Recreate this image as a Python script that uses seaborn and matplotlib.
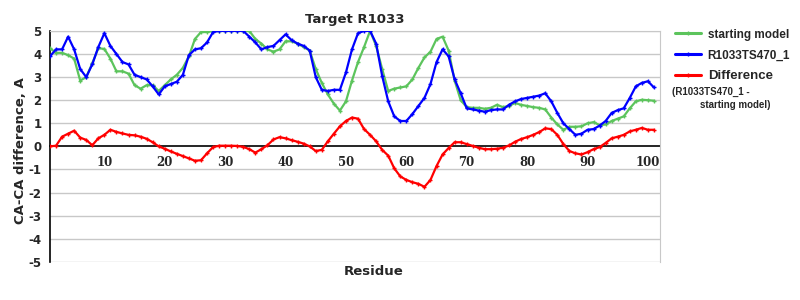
import numpy as np
import pandas as pd
import matplotlib
matplotlib.use("Agg")
import matplotlib.pyplot as plt
import seaborn as sns
from matplotlib.lines import Line2D

residues = list(range(1, 102))

starting_model = [
    4.25, 4.05, 4.05, 3.95, 3.8, 2.85, 3.0, 3.6, 4.25, 4.22,
    3.8, 3.25, 3.25, 3.15, 2.65, 2.5, 2.65, 2.65, 2.4, 2.65,
    2.9, 3.1, 3.4, 3.9, 4.65, 4.95, 4.95, 5.0, 5.0, 5.0,
    5.0, 5.0, 5.0, 5.0, 4.65, 4.45, 4.2, 4.1, 4.2, 4.55,
    4.55, 4.45, 4.3, 4.15, 3.35, 2.75, 2.25, 1.85, 1.55, 1.95,
    2.85, 3.65, 4.3, 5.0, 4.35, 3.35, 2.4, 2.5, 2.55, 2.6,
    2.9, 3.4, 3.85, 4.1, 4.65, 4.75, 4.15, 2.85, 2.0, 1.7,
    1.67, 1.67, 1.63, 1.67, 1.8, 1.7, 1.75, 1.88, 1.8, 1.75,
    1.7, 1.67, 1.6, 1.25, 0.95, 0.72, 0.85, 0.85, 0.87, 1.0,
    1.05, 0.92, 0.95, 1.1, 1.2, 1.3, 1.65, 1.95, 2.02, 2.0,
    1.98,
]

model_r1033ts470 = [
    3.9, 4.2, 4.2, 4.75, 4.2, 3.35, 3.0, 3.55, 4.3, 4.9,
    4.35, 4.0, 3.65, 3.55, 3.1, 3.0, 2.9, 2.6, 2.25, 2.6,
    2.7, 2.8, 3.1, 3.95, 4.2, 4.25, 4.5, 4.95, 5.0, 5.0,
    5.0, 5.0, 5.0, 4.75, 4.5, 4.2, 4.3, 4.35, 4.6, 4.85,
    4.6, 4.45, 4.35, 4.15, 3.0, 2.45, 2.4, 2.45, 2.45, 3.2,
    4.2, 4.9, 5.0, 5.0, 4.45, 3.05, 1.95, 1.3, 1.1, 1.1,
    1.4, 1.75, 2.1, 2.7, 3.65, 4.2, 3.9, 2.9, 2.3, 1.65,
    1.6, 1.55, 1.5, 1.57, 1.6, 1.6, 1.8, 1.95, 2.05, 2.1,
    2.15, 2.2, 2.3, 1.95, 1.45, 1.0, 0.75, 0.5, 0.55, 0.72,
    0.75, 0.9, 1.1, 1.45, 1.57, 1.65, 2.1, 2.6, 2.75, 2.82,
    2.55,
]

difference = [
    0.0, 0.03, 0.42, 0.55, 0.68, 0.38, 0.28, 0.05, 0.35, 0.5,
    0.72, 0.63, 0.56, 0.5, 0.48, 0.42, 0.33, 0.18, 0.0, -0.1,
    -0.22, -0.32, -0.42, -0.52, -0.62, -0.6, -0.3, -0.03, 0.03, 0.03,
    0.03, 0.02, -0.02, -0.12, -0.27, -0.12, 0.05, 0.3, 0.4, 0.35,
    0.27, 0.2, 0.12, 0.0, -0.2, -0.15, 0.22, 0.55, 0.87, 1.1,
    1.25, 1.2, 0.75, 0.5, 0.22, -0.15, -0.4, -0.95, -1.3, -1.45,
    -1.55, -1.62, -1.75, -1.45, -0.85, -0.35, -0.07, 0.18, 0.18, 0.1,
    0.02, -0.06, -0.12, -0.12, -0.1, -0.06, 0.04, 0.2, 0.32, 0.4,
    0.5, 0.62, 0.78, 0.75, 0.5, 0.1, -0.2, -0.3, -0.35, -0.25,
    -0.12, -0.03, 0.15, 0.35, 0.42, 0.5, 0.65, 0.72, 0.8, 0.72,
    0.72,
]

series_names = ["starting model", "R1033TS470_1", "Difference"]
series_colors = ["#5CC45C", "#0000FF", "#FF0000"]
x_ticks = [10, 20, 30, 40, 50, 60, 70, 80, 90, 100]
y_ticks = [-5, -4, -3, -2, -1, 0, 1, 2, 3, 4, 5]

df = pd.DataFrame({
    "Residue": residues * 3,
    "value": starting_model + model_r1033ts470 + difference,
    "series": [series_names[0]] * len(residues)
    + [series_names[1]] * len(residues)
    + [series_names[2]] * len(residues),
})

sns.set_style("white")
plt.rcParams["font.family"] = ["DejaVu Sans"]

fig = plt.figure(figsize=(8, 3), dpi=100)
ax = fig.add_axes([0.0625, 0.127, 0.7625, 0.77])

for yv in y_ticks:
    if yv != 0:
        ax.axhline(yv, color="#C8C8C8", lw=1.0, zorder=0)

for name, col in zip(series_names, series_colors):
    sns.lineplot(
        data=df[df["series"] == name], x="Residue", y="value",
        color=col, marker="+", markersize=3.5, markeredgewidth=1.0,
        markeredgecolor=col, linewidth=1.6, ax=ax, legend=False,
        zorder=3,
    )

ax.set_xlim(1, 102)
ax.set_ylim(-5, 5)

ax.spines["bottom"].set_position(("data", 0))
ax.spines["bottom"].set_color("black")
ax.spines["bottom"].set_linewidth(1.2)
ax.spines["left"].set_color("black")
ax.spines["left"].set_linewidth(1.2)
ax.spines["right"].set_color("#C8C8C8")
ax.spines["top"].set_color("#C8C8C8")
ax.spines["bottom"].set_zorder(2)

ax.set_xticks(x_ticks)
ax.set_xticklabels([str(v) for v in x_ticks], fontsize=8.5,
                   fontweight="bold", family="DejaVu Serif")
ax.tick_params(axis="x", direction="out", length=5, color="#B0B0B0",
               width=1, pad=2)
ax.set_yticks(y_ticks)
ax.set_yticklabels([str(v) for v in y_ticks], fontsize=8.5,
                   fontweight="bold")
ax.tick_params(axis="y", length=0, pad=6)

ax.set_xlabel("Residue", fontsize=9.5, fontweight="bold",
              family=["Liberation Sans Narrow", "DejaVu Sans"])
ax.xaxis.set_label_coords(0.53, -0.015)
ax.set_ylabel("CA-CA difference, A", fontsize=9.5, fontweight="bold")
ax.yaxis.set_label_coords(-0.038, 0.48)
ax.set_title("Target R1033", fontsize=9.5, fontweight="bold",
             family=["Liberation Sans Narrow", "DejaVu Sans"], pad=6)

handles = [Line2D([0], [0], color=c, lw=2.2, marker="+", markersize=3)
           for c in series_colors]
leg = fig.legend(handles, series_names, loc="upper left",
                 bbox_to_anchor=(0.83, 0.94), frameon=False,
                 handlelength=2.2, handletextpad=0.6, labelspacing=0.75,
                 prop={"family": "Liberation Sans", "weight": "bold",
                       "size": 8.5})
leg.get_texts()[2].set_fontsize(9.5)
fig.text(0.84, 0.71, "(R1033TS470_1 -", fontsize=7, fontweight="bold",
         family=["Liberation Sans Narrow", "Liberation Sans"], va="top")
fig.text(0.875, 0.667, "starting model)", fontsize=7, fontweight="bold",
         family=["Liberation Sans Narrow", "Liberation Sans"], va="top")

fig.savefig("out.png", dpi=100)
